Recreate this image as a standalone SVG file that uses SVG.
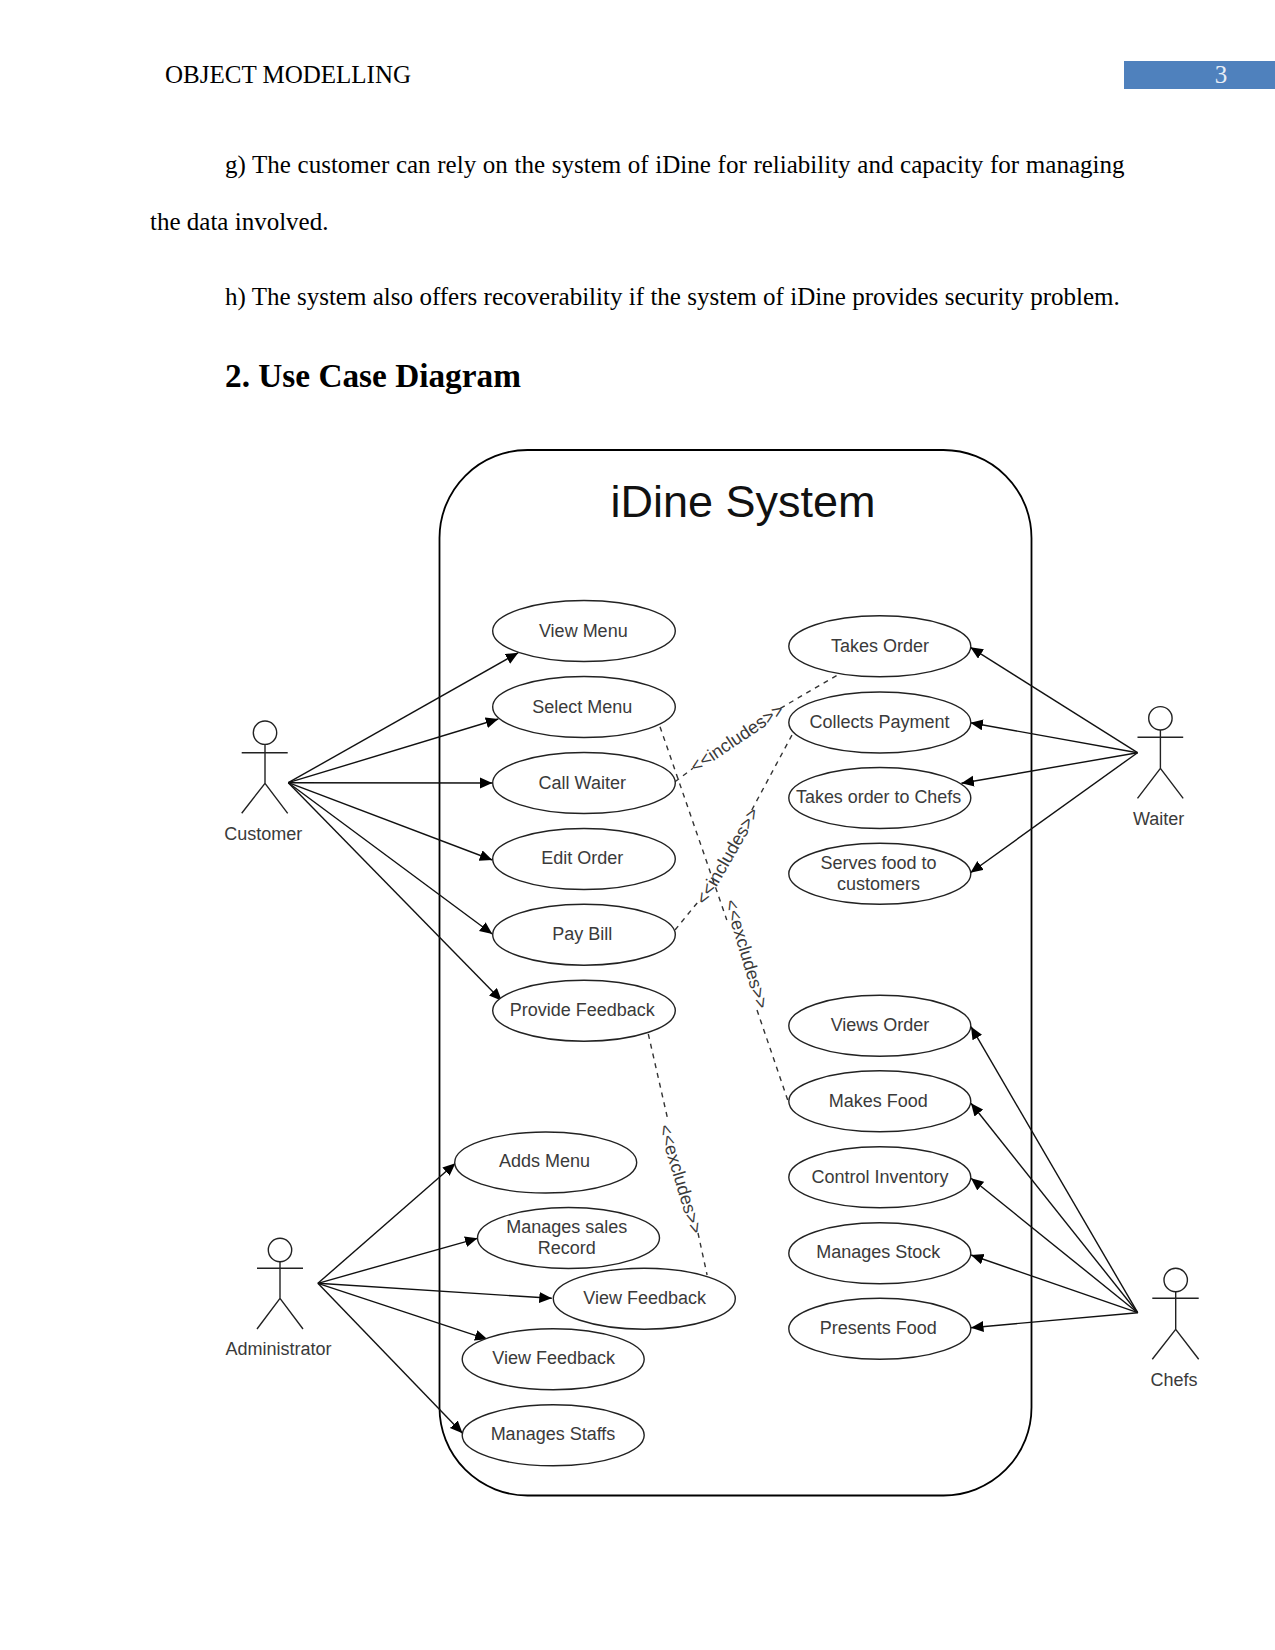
<svg xmlns="http://www.w3.org/2000/svg" width="1275" height="1650" viewBox="0 0 1275 1650">
<defs>
<marker id="arrow" markerUnits="userSpaceOnUse" markerWidth="14" markerHeight="12" refX="12.5" refY="5.5" orient="auto"><path d="M0,0 L12.5,5.5 L0,11 Z" fill="#000"/></marker>
</defs>
<style>
.doc{font-family:"Liberation Serif","Times New Roman",serif;font-size:25px;fill:#000}
.head{font-size:33.3px;font-weight:bold}
.lbl{font-family:"Liberation Sans",Arial,sans-serif;font-size:18px;fill:#3a3a3a;text-anchor:middle}
.title{font-family:"Liberation Sans",Arial,sans-serif;font-size:45px;fill:#111;text-anchor:middle}
.uc{fill:#fff;stroke:#222;stroke-width:1.4}
.act{fill:none;stroke:#222;stroke-width:1.4}
.assoc{fill:none;stroke:#111;stroke-width:1.4;marker-end:url(#arrow)}
.dash{fill:none;stroke:#333;stroke-width:1.4;stroke-dasharray:5 5}
.frame{fill:none;stroke:#000;stroke-width:1.8}
</style>
<rect width="1275" height="1650" fill="#fff"/>

<g id="page-text">
<text class="doc" x="165" y="83">OBJECT MODELLING</text>
<rect x="1124" y="61" width="151" height="28" fill="#4f81bd"/>
<text class="doc" x="1221" y="83" text-anchor="middle" style="fill:#e8eef6">3</text>
<text class="doc" x="225" y="173" word-spacing="0.43">g) The customer can rely on the system of iDine for reliability and capacity for managing</text>
<text class="doc" x="150" y="230">the data involved.</text>
<text class="doc" x="225" y="305" word-spacing="0.11">h) The system also offers recoverability if the system of iDine provides security problem.</text>
<text class="doc head" x="225" y="387">2. Use Case Diagram</text>
</g>

<g id="system-frame">
<rect class="frame" x="439.5" y="450" width="592" height="1045.5" rx="88" ry="88"/>
<text class="title" x="743" y="517">iDine System</text>
</g>

<g id="connectors">
<line class="assoc" x1="288.3" y1="782.7" x2="518.3" y2="652.7"/>
<line class="assoc" x1="288.3" y1="782.7" x2="498.3" y2="719"/>
<line class="assoc" x1="288.3" y1="782.7" x2="492.3" y2="783"/>
<line class="assoc" x1="288.3" y1="782.7" x2="492.3" y2="860"/>
<line class="assoc" x1="288.3" y1="782.7" x2="492.3" y2="934"/>
<line class="assoc" x1="288.3" y1="782.7" x2="501.7" y2="1000.7"/>
<line class="assoc" x1="1137.5" y1="752.7" x2="970.4" y2="647.3"/>
<line class="assoc" x1="1137.5" y1="752.7" x2="970.4" y2="722.7"/>
<line class="assoc" x1="1137.5" y1="752.7" x2="961.4" y2="783.3"/>
<line class="assoc" x1="1137.5" y1="752.7" x2="970.4" y2="872.7"/>
<line class="assoc" x1="1137.7" y1="1312.7" x2="971" y2="1026.7"/>
<line class="assoc" x1="1137.7" y1="1312.7" x2="971" y2="1103.3"/>
<line class="assoc" x1="1137.7" y1="1312.7" x2="971" y2="1178.3"/>
<line class="assoc" x1="1137.7" y1="1312.7" x2="971" y2="1255"/>
<line class="assoc" x1="1137.7" y1="1312.7" x2="971" y2="1327.7"/>
<line class="assoc" x1="317.9" y1="1283.3" x2="455.4" y2="1163.3"/>
<line class="assoc" x1="317.9" y1="1283.3" x2="477.5" y2="1238.3"/>
<line class="assoc" x1="317.9" y1="1283.3" x2="551.8" y2="1298.3"/>
<line class="assoc" x1="317.9" y1="1283.3" x2="487.5" y2="1339.3"/>
<line class="assoc" x1="317.9" y1="1283.3" x2="462.5" y2="1433.3"/>
<line class="dash" x1="675" y1="781.7" x2="692.9" y2="768.3"/>
<line class="dash" x1="780.4" y1="708.3" x2="837.5" y2="675"/>
<line class="dash" x1="675" y1="930" x2="698.2" y2="901.7"/>
<line class="dash" x1="751.8" y1="810" x2="792.9" y2="733.3"/>
<line class="dash" x1="660" y1="726.7" x2="726.8" y2="920"/>
<line class="dash" x1="757" y1="1010" x2="788.3" y2="1101.7"/>
<line class="dash" x1="648.3" y1="1034" x2="667.9" y2="1120"/>
<line class="dash" x1="698" y1="1233" x2="707.1" y2="1275"/>
<text class="lbl" transform="translate(737 738) rotate(-34) translate(0 6)">&lt;&lt;includes&gt;&gt;</text>
<text class="lbl" transform="translate(727.5 856) rotate(-60) translate(0 6)">&lt;&lt;includes&gt;&gt;</text>
<text class="lbl" transform="translate(746.5 954) rotate(73.3) translate(0 6)">&lt;&lt;excludes&gt;&gt;</text>
<text class="lbl" transform="translate(680.4 1179) rotate(73.3) translate(0 6)">&lt;&lt;excludes&gt;&gt;</text>
</g>

<g id="uc-view-menu"><ellipse class="uc" cx="584" cy="631" rx="91.3" ry="30.5"/><text class="lbl" x="583.3" y="636.7">View Menu</text></g>
<g id="uc-select-menu"><ellipse class="uc" cx="584" cy="707" rx="91.3" ry="30.5"/><text class="lbl" x="582.3" y="712.7">Select Menu</text></g>
<g id="uc-call-waiter"><ellipse class="uc" cx="584" cy="783" rx="91.3" ry="30.5"/><text class="lbl" x="582.3" y="788.7">Call Waiter</text></g>
<g id="uc-edit-order"><ellipse class="uc" cx="584" cy="859" rx="91.3" ry="30.5"/><text class="lbl" x="582.3" y="864.3">Edit Order</text></g>
<g id="uc-pay-bill"><ellipse class="uc" cx="584" cy="934.7" rx="91.3" ry="30.5"/><text class="lbl" x="582.3" y="940">Pay Bill</text></g>
<g id="uc-provide-feedback"><ellipse class="uc" cx="584" cy="1010.7" rx="91.3" ry="30.5"/><text class="lbl" x="582.3" y="1015.7">Provide Feedback</text></g>

<g id="uc-takes-order"><ellipse class="uc" cx="879.8" cy="646.3" rx="91" ry="30.5"/><text class="lbl" x="880" y="651.7">Takes Order</text></g>
<g id="uc-collects-payment"><ellipse class="uc" cx="879.8" cy="722.5" rx="91" ry="30.5"/><text class="lbl" x="879.6" y="727.7">Collects Payment</text></g>
<g id="uc-takes-order-chefs"><ellipse class="uc" cx="879.8" cy="798" rx="91" ry="30.5"/><text class="lbl" x="878.6" y="803.3" style="font-size:17.9px">Takes order to Chefs</text></g>
<g id="uc-serves-food"><ellipse class="uc" cx="879.8" cy="873.8" rx="91" ry="30.5"/><text class="lbl" x="878.6" y="869">Serves food to</text><text class="lbl" x="878.6" y="890">customers</text></g>

<g id="uc-views-order"><ellipse class="uc" cx="879.8" cy="1025.8" rx="91" ry="30.5"/><text class="lbl" x="880" y="1031">Views Order</text></g>
<g id="uc-makes-food"><ellipse class="uc" cx="879.8" cy="1101.3" rx="91" ry="30.5"/><text class="lbl" x="878.3" y="1106.7">Makes Food</text></g>
<g id="uc-control-inventory"><ellipse class="uc" cx="879.8" cy="1177.3" rx="91" ry="30.5"/><text class="lbl" x="880" y="1182.7">Control Inventory</text></g>
<g id="uc-manages-stock"><ellipse class="uc" cx="879.8" cy="1253.3" rx="91" ry="30.5"/><text class="lbl" x="878.3" y="1258.3">Manages Stock</text></g>
<g id="uc-presents-food"><ellipse class="uc" cx="879.8" cy="1328.8" rx="91" ry="30.5"/><text class="lbl" x="878.3" y="1334">Presents Food</text></g>

<g id="uc-adds-menu"><ellipse class="uc" cx="545.7" cy="1162.5" rx="91" ry="30.5"/><text class="lbl" x="544.6" y="1167.3">Adds Menu</text></g>
<g id="uc-manages-sales"><ellipse class="uc" cx="568.5" cy="1238" rx="91" ry="30.5"/><text class="lbl" x="566.8" y="1232.7">Manages sales</text><text class="lbl" x="566.8" y="1254">Record</text></g>
<g id="uc-view-feedback-a"><ellipse class="uc" cx="644.3" cy="1298.7" rx="91" ry="30.5"/><text class="lbl" x="644.6" y="1304.3">View Feedback</text></g>
<g id="uc-view-feedback-b"><ellipse class="uc" cx="553.2" cy="1359.2" rx="91" ry="30.5"/><text class="lbl" x="553.6" y="1364.3">View Feedback</text></g>
<g id="uc-manages-staffs"><ellipse class="uc" cx="553.2" cy="1435.3" rx="91" ry="30.5"/><text class="lbl" x="553" y="1440">Manages Staffs</text></g>

<g id="actor-customer"><circle class="act" cx="265" cy="732.7" r="11.7"/><path class="act" d="M265,744.4V783.3M241.7,752.7H287.7M241.7,813.3L265,783.3L287.7,813.3"/><text class="lbl" x="263.3" y="840">Customer</text></g>
<g id="actor-waiter"><circle class="act" cx="1160.4" cy="718.3" r="11.7"/><path class="act" d="M1160.4,730V768.3M1137.5,737.3H1183.2M1137.5,798.3L1160.4,768.3L1183.2,798.3"/><text class="lbl" x="1158.6" y="825">Waiter</text></g>
<g id="actor-administrator"><circle class="act" cx="280" cy="1250" r="11.7"/><path class="act" d="M280,1261.7V1298.3M257,1268.3H303M257,1329L280,1298.3L303,1329"/><text class="lbl" x="278.6" y="1355">Administrator</text></g>
<g id="actor-chefs"><circle class="act" cx="1175.7" cy="1280" r="11.7"/><path class="act" d="M1175.7,1291.7V1329.3M1152.3,1298.3H1198.7M1152.3,1359.3L1175.7,1329.3L1198.7,1359.3"/><text class="lbl" x="1174" y="1385.7">Chefs</text></g>
</svg>
